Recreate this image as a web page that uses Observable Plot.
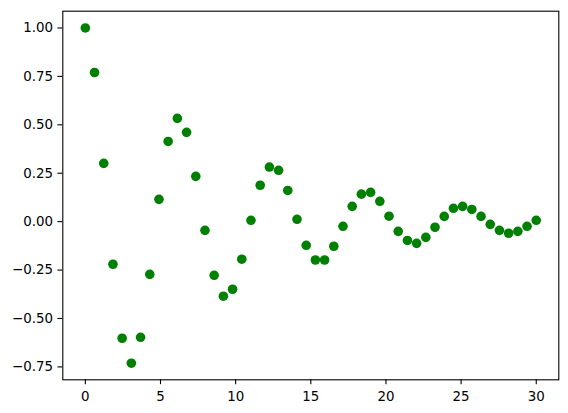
<!DOCTYPE html>
<html>
<head>
<meta charset="utf-8">
<script src="https://cdn.jsdelivr.net/npm/d3@7"></script>
<script src="https://cdn.jsdelivr.net/npm/@observablehq/plot@0.6"></script>
<style>
  html, body { margin: 0; padding: 0; background: #fff; }
</style>
</head>
<body>
<div id="chart"></div>
<script>
const xValues = [
  0.000, 0.612, 1.224, 1.837, 2.449, 3.061, 3.673, 4.286, 4.898, 5.510,
  6.122, 6.735, 7.347, 7.959, 8.571, 9.184, 9.796, 10.408, 11.020, 11.633,
  12.245, 12.857, 13.469, 14.082, 14.694, 15.306, 15.918, 16.531, 17.143, 17.755,
  18.367, 18.980, 19.592, 20.204, 20.816, 21.429, 22.041, 22.653, 23.265, 23.878,
  24.490, 25.102, 25.714, 26.327, 26.939, 27.551, 28.163, 28.776, 29.388, 30.000
];
const yValues = [
  1.000, 0.770, 0.301, -0.220, -0.602, -0.731, -0.597, -0.272, 0.115, 0.414,
  0.533, 0.461, 0.234, -0.045, -0.277, -0.385, -0.349, -0.194, 0.007, 0.188,
  0.282, 0.265, 0.161, 0.012, -0.122, -0.198, -0.198, -0.127, -0.024, 0.079,
  0.142, 0.151, 0.105, 0.028, -0.050, -0.097, -0.112, -0.081, -0.029, 0.027,
  0.069, 0.079, 0.063, 0.027, -0.014, -0.045, -0.060, -0.050, -0.024, 0.007
];
const xTicks = [0, 5, 10, 15, 20, 25, 30];
const yTicks = [-0.75, -0.50, -0.25, 0.00, 0.25, 0.50, 0.75, 1.00];

const data = xValues.map((x, i) => ({x, y: yValues[i]}));

const chart = Plot.plot({
  width: 568,
  height: 413,
  marginLeft: 62.3,
  marginRight: 9.7,
  marginTop: 10.7,
  marginBottom: 33.7,
  style: {fontFamily: "'DejaVu Sans', sans-serif", color: "#000", background: "#fff"},
  x: {domain: [-1.5, 31.5]},
  y: {domain: [-0.8166, 1.0866]},
  marks: [
    Plot.dot(data, {x: "x", y: "y", r: 4.8, fill: "#008000", stroke: "none"}),
    Plot.frame({stroke: "#000", strokeWidth: 1.1}),
    Plot.axisX({ticks: xTicks, tickSize: 4.9, tickPadding: 6.6, tickFormat: d3.format("d"), label: null, fontSize: 13.4, strokeWidth: 1.1}),
    Plot.axisY({ticks: yTicks, tickSize: 4.9, tickPadding: 4.9, tickFormat: d3.format(".2f"), label: null, fontSize: 13.4, strokeWidth: 1.1})
  ]
});
document.getElementById("chart").appendChild(chart);
</script>
</body>
</html>
